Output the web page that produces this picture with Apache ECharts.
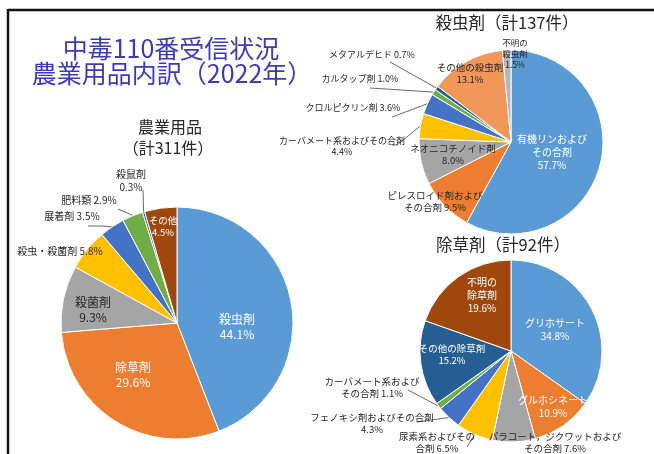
<!DOCTYPE html>
<html>
<head>
<meta charset="utf-8">
<script src="https://cdn.jsdelivr.net/npm/echarts@6/dist/echarts.min.js"></script>
<style>
  html, body { margin: 0; padding: 0; background: #fff; }
  #main { width: 654px; height: 454px; }
</style>
</head>
<body>
<div id="main"></div>
<script>
// 農業用品（計311件）
const agriNames = ['殺虫剤', '除草剤', '殺菌剤', '殺虫・殺菌剤', '展着剤', '肥料類', '殺鼠剤', 'その他'];
const agriPct = [44.1, 29.6, 9.3, 5.8, 3.5, 2.9, 0.3, 4.5];

// 殺虫剤（計137件）
const insNames = ['有機リンおよび\nその合剤', 'ピレスロイド剤および\nその合剤', 'ネオニコチノイド剤', 'カーバメート系およびその合剤',
  'クロルピクリン剤', 'カルタップ剤', 'メタアルデヒド', 'その他の殺虫剤', '不明の\n殺虫剤'];
const insPct = [57.7, 9.5, 8.0, 4.4, 3.6, 1.0, 0.7, 13.1, 1.5];

// 除草剤（計92件）
const herbNames = ['グリホサート', 'グルホシネート', 'パラコート，ジクワットおよび\nその合剤', '尿素系およびその\n合剤',
  'フェノキシ剤およびその合剤', 'カーバメート系および\nその合剤', 'その他の除草剤', '不明の\n除草剤'];
const herbPct = [34.8, 10.9, 7.6, 6.5, 4.3, 1.1, 15.2, 19.6];

const FONT = '"Noto Sans CJK JP", "Noto Sans", sans-serif';
const DARK = '#262626';
const colorsA = ['#5B9BD5', '#ED7D31', '#A5A5A5', '#FFC000', '#4472C4', '#70AD47', '#255E91', '#9E480E'];
const colorsB = ['#5B9BD5', '#ED7D31', '#A5A5A5', '#FFC000', '#4472C4', '#70AD47', '#255E91', '#F1975A', '#B7B7B7'];

// label placement: [x, y, separator, color, fontSize, leader points (label side)]
const layA = [
  [237, 327, '\n', '#fff', 12, null],
  [133, 375, '\n', '#fff', 12, null],
  [93, 310, '\n', DARK, 12, null],
  [60, 251, ' ', DARK, 10, null],
  [72, 216, ' ', DARK, 10, [[102, 226], [88, 226]]],
  [89, 200, ' ', DARK, 10, [[132, 215], [118, 209]]],
  [131, 181, '\n', DARK, 10, [[143, 190]]],
  [163, 226, '\n', '#fff', 9.5, null]
];
const layB = [
  [552, 152, '\n', '#fff', 10, null],
  [435, 201, ' ', DARK, 9.5, null],
  [453, 154, '\n', DARK, 9.5, null],
  [342, 146, '\n', DARK, 9, [[397, 145], [392, 145]]],
  [353, 108, ' ', DARK, 9, [[392, 117]]],
  [360, 79, ' ', DARK, 9, [[370, 88]]],
  [372, 55, ' ', DARK, 9, [[390, 62]]],
  [470, 73, '\n', DARK, 9.5, null],
  [515, 54, '\n', DARK, 8.5, null]
];
const layC = [
  [555, 330, '\n', '#fff', 10, null],
  [553, 407, '\n', '#fff', 10, null],
  [555, 442, ' ', DARK, 9.5, null],
  [437, 442, ' ', DARK, 9.5, [[467, 447]]],
  [372, 423, '\n', DARK, 9.5, [[417, 422]]],
  [372, 387, ' ', DARK, 9.5, [[408, 390]]],
  [452, 354, '\n', '#fff', 9.5, null],
  [482, 295, '\n', '#fff', 10, null]
];

function buildData(names, vals, colors, lay) {
  return names.map((n, i) => ({
    name: n,
    value: vals[i],
    itemStyle: { color: colors[i] },
    label: {
      position: lay[i][5] ? 'outside' : 'inside',
      color: lay[i][3],
      fontSize: lay[i][4],
      lineHeight: Math.round(lay[i][4] * 1.25),
      formatter: n + lay[i][2] + vals[i].toFixed(1) + '%'
    },
    labelLine: { show: !!lay[i][5] }
  }));
}

function pieSeries(names, vals, colors, lay, center, radius) {
  return {
    type: 'pie',
    center: center,
    radius: radius,
    startAngle: 90,
    clockwise: true,
    avoidLabelOverlap: false,
    animation: false,
    itemStyle: { borderColor: '#fff', borderWidth: 1 },
    label: { fontFamily: FONT, align: 'center' },
    labelLine: { lineStyle: { color: '#404040', width: 0.8 } },
    emphasis: { disabled: true },
    data: buildData(names, vals, colors, lay),
    labelLayout: function (p) {
      const l = lay[p.dataIndex];
      const r = { x: l[0], y: l[1], align: 'center', verticalAlign: 'middle' };
      if (l[5] && p.labelLinePoints) {
        r.labelLinePoints = [p.labelLinePoints[0]].concat(l[5]);
      }
      return r;
    }
  };
}

function txt(x, y, text, size, color) {
  return {
    type: 'text',
    style: { x: x, y: y, text: text, fill: color, font: size + 'px ' + FONT, textAlign: 'center', textVerticalAlign: 'middle' }
  };
}

const chart = echarts.init(document.getElementById('main'));
chart.setOption({
  backgroundColor: '#fff',
  graphic: [
    { type: 'line', shape: { x1: 8, y1: 10, x2: 654, y2: 10 }, style: { stroke: '#111', lineWidth: 2.5 } },
    { type: 'line', shape: { x1: 8, y1: 9, x2: 8, y2: 454 }, style: { stroke: '#111', lineWidth: 2.5 } },
    txt(171, 48, '中毒110番受信状況', 25, '#3B3BB5'),
    txt(172, 73, '農業用品内訳（2022年）', 25, '#3B3BB5'),
    txt(170, 127, '農業用品', 16, DARK),
    txt(168, 148, '（計311件）', 16, DARK),
    txt(507, 23, '殺虫剤（計137件）', 16.5, DARK),
    txt(503, 245, '除草剤（計92件）', 16.5, DARK)
  ],
  series: [
    pieSeries(agriNames, agriPct, colorsA, layA, [177, 323], 116),
    pieSeries(insNames, insPct, colorsB, layB, [511, 142], 92),
    pieSeries(herbNames, herbPct, colorsA, layC, [511, 351], 91)
  ]
});
</script>
</body>
</html>
